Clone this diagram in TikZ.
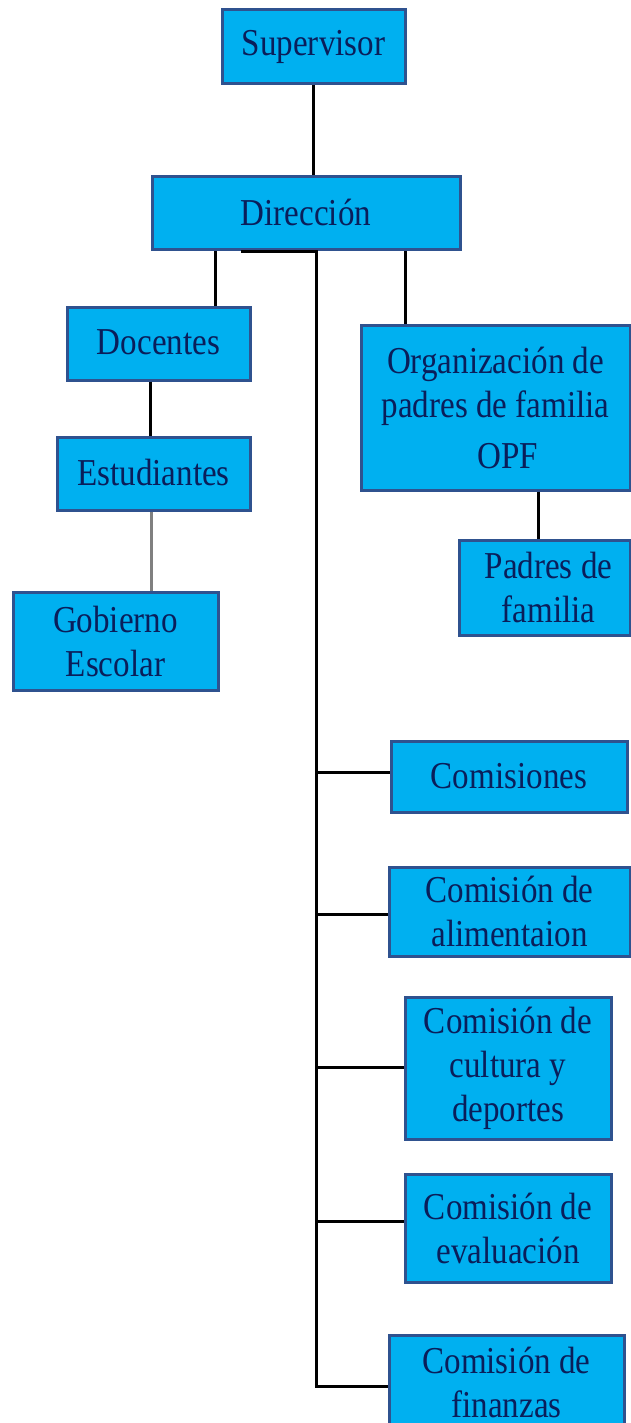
\documentclass[tikz,border=0pt]{standalone}
\usepackage{fontspec}
\newfontfamily\boxfont[FakeStretch=0.87]{Liberation Serif}
\definecolor{boxfill}{RGB}{0,176,240}
\definecolor{boxline}{RGB}{47,82,143}
\definecolor{boxtext}{RGB}{10,30,90}
\tikzset{
  orgbox/.style={draw=boxline, line width=3pt, fill=boxfill, text=boxtext,
    font=\boxfont\fontsize{38}{44}\selectfont, align=center, inner sep=0pt},
  link/.style={draw=black, line width=3pt},
  graylink/.style={draw=gray, line width=3pt}
}
\begin{document}
\begin{tikzpicture}[x=1pt,y=-1pt]
\useasboundingbox (0,0) rectangle (631,1423);
\clip (0,0) rectangle (631,1423);
\fill[white] (0,0) rectangle (631,1423);
% nodes
\node[orgbox, minimum width=183pt, minimum height=74pt] (sup) at (313.5,47) {\raisebox{3pt}{Supervisor}};
\node[orgbox, minimum width=308pt, minimum height=73pt] (dir) at (306,213.5) {\raisebox{2pt}{Dirección}};
\node[orgbox, minimum width=183pt, minimum height=73pt] (doc) at (158.5,343.5) {\raisebox{2pt}{Docentes}};
\node[orgbox, minimum width=193pt, minimum height=73pt] (est) at (153.5,473.5) {\raisebox{3pt}{Estudiantes}};
\node[orgbox, minimum width=205pt, minimum height=98pt] (gob) at (115.5,641) {Gobierno\\Escolar};
\node[orgbox, minimum width=269pt, minimum height=165pt] (opf) at (495.5,407.5) {Organización de\\padres de familia\\[7pt]\hspace*{24pt}OPF};
\node[orgbox, minimum width=171pt, minimum height=95pt] (pad) at (544.5,587.5) {\hspace*{8pt}Padres de\\\hspace*{8pt}familia};
\node[orgbox, minimum width=236pt, minimum height=71pt] (com) at (509,776.5) {Comisiones};
\node[orgbox, minimum width=241pt, minimum height=89pt] (ali) at (509.5,911.5) {Comisión de\\alimentaion};
\node[orgbox, minimum width=206pt, minimum height=142pt] (cul) at (508,1068) {Comisión de\\cultura y\\deportes};
\node[orgbox, minimum width=206pt, minimum height=108pt] (eva) at (508,1228) {Comisión de\\evaluación};
\node[orgbox, minimum width=235pt, minimum height=94pt] (fin) at (506.5,1382) {Comisión de\\finanzas};
% helper coordinates
\coordinate (xs) at (313,0);
\coordinate (xd) at (215,0);
\coordinate (xo) at (405,0);
\coordinate (xe) at (150,0);
\coordinate (xg) at (151,0);
\coordinate (xp) at (538,0);
\coordinate (xt0) at (241,0);
\coordinate (xt) at (316,0);
\coordinate (c1) at (316,772);
\coordinate (c2) at (316,914);
\coordinate (c3) at (316,1067);
\coordinate (c4) at (316,1221);
\coordinate (c5) at (316,1386);
% connectors
\draw[link] (sup.south -| xs) -- (dir.north -| xs);
\draw[link] (dir.south -| xd) -- (doc.north -| xd);
\draw[link] (dir.south -| xo) -- (opf.north -| xo);
\draw[link] (doc.south -| xe) -- (est.north -| xe);
\draw[graylink] (est.south -| xg) -- (gob.north -| xg);
\draw[link] (opf.south -| xp) -- (pad.north -| xp);
\draw[link] (dir.south -| xt0) -- (dir.south -| xt) -- (c5) -- (c5 -| fin.west);
\draw[link] (c1) -- (c1 -| com.west);
\draw[link] (c2) -- (c2 -| ali.west);
\draw[link] (c3) -- (c3 -| cul.west);
\draw[link] (c4) -- (c4 -| eva.west);
\end{tikzpicture}
\end{document}
